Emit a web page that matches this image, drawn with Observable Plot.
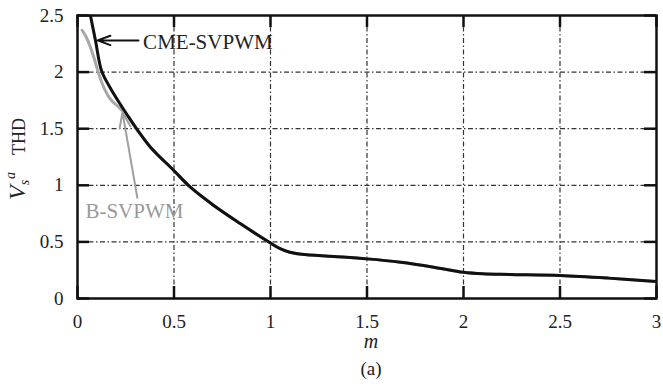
<!DOCTYPE html>
<html><head><meta charset="utf-8">
<script src="https://cdn.jsdelivr.net/npm/d3@7"></script>
<script src="https://cdn.jsdelivr.net/npm/@observablehq/plot@0.6"></script>
<style>
body{margin:0;background:#fff;}
#chart svg, #chart svg text {font-family:"Liberation Serif","DejaVu Serif",serif !important;}
</style>
</head><body><div id="chart"></div>
<script>
// CME-SVPWM (black) values
const cmeM = [0.067, 0.093, 0.125, 0.17, 0.22, 0.266, 0.31, 0.378, 0.499, 0.585, 0.706, 0.845, 0.93, 1.0, 1.05, 1.1, 1.16, 1.328, 1.5, 1.674, 1.846, 2.0, 2.1, 2.24, 2.5, 2.75, 3.0];
const cmeV = [2.5, 2.28, 2.01, 1.86, 1.72, 1.6, 1.49, 1.337, 1.131, 0.983, 0.822, 0.66, 0.565, 0.49, 0.44, 0.408, 0.39, 0.371, 0.35, 0.32, 0.277, 0.232, 0.218, 0.212, 0.203, 0.18, 0.15];
// B-SVPWM (grey) values
const bM = [0.024, 0.045, 0.067, 0.09, 0.11, 0.135, 0.171, 0.22, 0.266, 0.31, 0.378, 0.499, 0.585, 0.706, 0.845, 0.93, 1.0, 1.05, 1.1, 1.16, 1.328, 1.5, 1.674, 1.846, 2.0, 2.1, 2.24, 2.5, 2.75, 3.0];
const bV = [2.37, 2.31, 2.22, 2.1, 1.985, 1.87, 1.76, 1.68, 1.6, 1.49, 1.337, 1.131, 0.983, 0.822, 0.66, 0.565, 0.49, 0.44, 0.408, 0.39, 0.371, 0.35, 0.32, 0.277, 0.232, 0.218, 0.212, 0.203, 0.18, 0.15];

const xTicks = [0, 0.5, 1, 1.5, 2, 2.5, 3];
const xTickLabels = ["0", "0.5", "1", "1.5", "2", "2.5", "3"];
const yTicks = [0, 0.5, 1, 1.5, 2, 2.5];
const yTickLabels = ["0", "0.5", "1", "1.5", "2", "2.5"];

const seriesNames = ["CME-SVPWM", "B-SVPWM"];
// annotation anchors (data units)
const annArrowCME = [{x1: 0.316, y1: 2.28, x2: 0.104, y2: 2.28}];
const annArrowB = [{x1: 0.31, y1: 0.89, x2: 0.233, y2: 1.645}];
const annTextCME = [{x: 0.34, y: 2.265, text: seriesNames[0]}];
const annTextB = [{x: 0.041, y: 0.77, text: seriesNames[1]}];

const cme = cmeM.map((m, i) => ({m, v: cmeV[i]}));
const bsv = bM.map((m, i) => ({m, v: bV[i]}));

const W = 663, H = 391, mt = 15, mr = 7, mb = 93, ml = 77;
const innerW = W - ml - mr, innerH = H - mt - mb;
const xDom = [0, 3], yDom = [0, 2.5];
const TL = 12; // inward tick length in px
const tlx = TL / innerW * (xDom[1] - xDom[0]);  // tick length in x data units
const tly = TL / innerH * (yDom[1] - yDom[0]);  // tick length in y data units
const gridStyle = {stroke: "#333", strokeOpacity: 1, strokeWidth: 1.2, strokeDasharray: "5,2.5,1.5,2.5"};
const tk = {stroke: "#111", strokeWidth: 2.5};

const chart = Plot.plot({
  width: W, height: H,
  marginTop: mt, marginRight: mr, marginBottom: mb, marginLeft: ml,
  x: {domain: xDom},
  y: {domain: yDom},
  style: {fontFamily: "'Liberation Serif', serif", fontSize: "19px", color: "#222", background: "#fff"},
  marks: [
    Plot.gridX(xTicks.slice(1, -1), gridStyle),
    Plot.gridY(yTicks.slice(1, -1), gridStyle),
    Plot.axisX(xTicks, {anchor: "bottom", tickSize: 0, tickPadding: 16, tickFormat: d => xTickLabels[xTicks.indexOf(d)], label: null, fill: "#222"}),
    Plot.axisY(yTicks, {anchor: "left", tickSize: 0, tickPadding: 14, tickFormat: d => yTickLabels[yTicks.indexOf(d)], label: null, fill: "#222"}),
    // inward ticks on all four sides
    Plot.ruleX(xTicks, {x: d => d, y1: yDom[0], y2: yDom[0] + tly, ...tk}),
    Plot.ruleX(xTicks, {x: d => d, y1: yDom[1] - tly, y2: yDom[1], ...tk}),
    Plot.ruleY(yTicks, {y: d => d, x1: xDom[0], x2: xDom[0] + tlx, ...tk}),
    Plot.ruleY(yTicks, {y: d => d, x1: xDom[1] - tlx, x2: xDom[1], ...tk}),
    Plot.line(bsv, {x: "m", y: "v", stroke: "#a8a8a8", strokeWidth: 3, curve: "catmull-rom", clip: true}),
    Plot.line(cme, {x: "m", y: "v", stroke: "#111", strokeWidth: 3, curve: "catmull-rom", clip: true}),
    Plot.arrow(annArrowCME, {x1: "x1", y1: "y1", x2: "x2", y2: "y2", stroke: "#111", strokeWidth: 2, headLength: 12, headAngle: 40}),
    Plot.arrow(annArrowB, {x1: "x1", y1: "y1", x2: "x2", y2: "y2", stroke: "#a0a0a0", strokeWidth: 2, headLength: 12, headAngle: 40}),
    Plot.text(annTextCME, {x: "x", y: "y", text: "text", textAnchor: "start", fontSize: 21, fill: "#222"}),
    Plot.text(annTextB, {x: "x", y: "y", text: "text", textAnchor: "start", fontSize: 21, fill: "#999"}),
    Plot.text(["m"], {frameAnchor: "bottom", dy: 49, dx: 4, fontStyle: "italic", fontSize: 20, fill: "#222"}),
    Plot.text(["(a)"], {frameAnchor: "bottom", dy: 76, dx: 4, fontSize: 19, fill: "#222"}),
    Plot.frame({stroke: "#111", strokeWidth: 2.5})
  ]
});

// y-axis label with subscript / superscript
const svg = d3.select(chart);
const t = svg.append("text")
  .attr("transform", "translate(25,200) rotate(-90)")
  .attr("text-anchor", "start")
  .attr("fill", "#222");
t.append("tspan").attr("font-style", "italic").attr("font-size", 24).text("V");
t.append("tspan").attr("font-style", "italic").attr("font-size", 14).attr("dy", 4).text("s");
t.append("tspan").attr("font-style", "italic").attr("font-size", 14).attr("dy", -14).attr("dx", 1).text("a");
t.append("tspan").attr("font-size", 18).attr("dy", 10).attr("dx", 17).text("THD");

document.getElementById("chart").appendChild(chart);
</script>
</body></html>
